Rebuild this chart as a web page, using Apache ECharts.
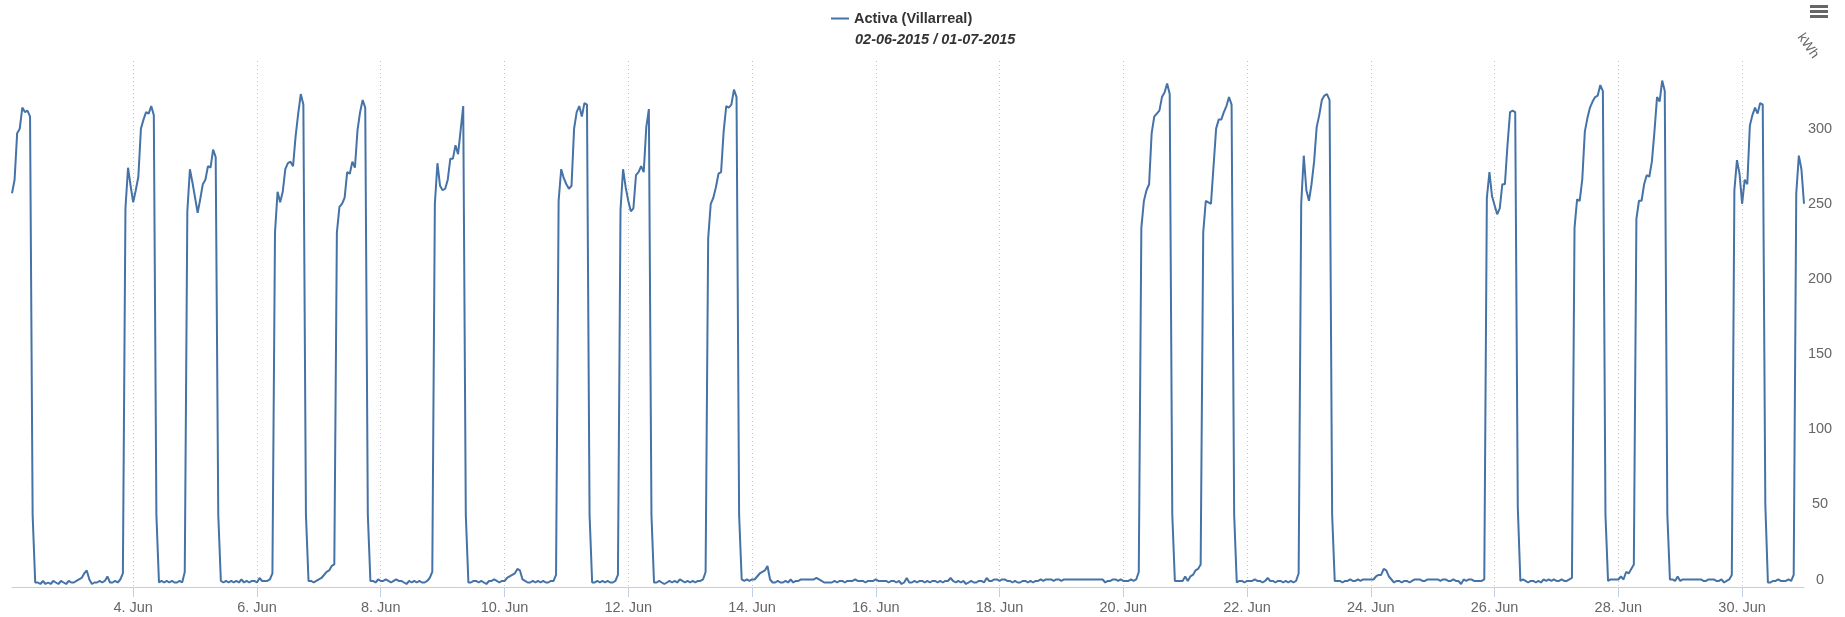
<!DOCTYPE html>
<html>
<head>
<meta charset="utf-8">
<title>Activa (Villarreal)</title>
<script src="https://cdn.jsdelivr.net/npm/echarts@6/dist/echarts.min.js"></script>
<style>
	html, body { margin: 0; padding: 0; background: #fff; }
	#chart { width: 1845px; height: 617px; }
</style>
</head>
<body>
<div id="chart"></div>
<script>
var seriesName = 'Activa (Villarreal)';
var periodText = '02-06-2015 / 01-07-2015';
var unitName = 'kWh';

// hourly kWh, one array per day, readings at 01:00 ... 24:00
var jun02 = [262, 271, 302, 305, 319, 316, 317, 313, 48, 3, 3, 2, 4, 2, 3, 2, 4, 3, 2, 4, 3, 2, 4, 3];
var jun03 = [3, 4, 5, 6, 9, 11, 5, 2, 3, 3, 4, 3, 4, 7, 3, 3, 4, 3, 5, 9, 252, 279, 267, 256];
var jun04 = [264, 273, 305, 311, 316, 315, 320, 314, 48, 3, 4, 3, 4, 3, 4, 3, 3, 4, 3, 10, 250, 278, 269, 259];
var jun05 = [249, 258, 268, 271, 280, 279, 291, 286, 48, 4, 3, 4, 3, 4, 3, 4, 3, 5, 3, 4, 3, 4, 4, 3];
var jun06 = [6, 4, 4, 4, 5, 9, 236, 263, 256, 263, 278, 282, 283, 280, 300, 315, 328, 321, 48, 4, 4, 3, 4, 5];
var jun07 = [6, 8, 10, 11, 14, 15, 236, 253, 255, 259, 276, 275, 283, 279, 304, 316, 324, 319, 48, 4, 4, 3, 5, 4];
var jun08 = [4, 5, 4, 3, 4, 5, 4, 4, 3, 2, 4, 3, 4, 3, 4, 3, 3, 4, 6, 10, 255, 282, 267, 264];
var jun09 = [265, 271, 285, 285, 294, 288, 304, 320, 48, 3, 3, 4, 4, 3, 4, 3, 2, 4, 4, 5, 4, 3, 4, 4];
var jun10 = [6, 7, 8, 9, 12, 11, 5, 4, 3, 3, 4, 3, 4, 3, 4, 3, 3, 4, 4, 8, 257, 278, 272, 268];
var jun11 = [265, 267, 305, 316, 320, 313, 322, 321, 48, 3, 3, 4, 3, 4, 3, 4, 3, 3, 4, 8, 251, 278, 266, 257];
var jun12 = [250, 252, 274, 276, 280, 276, 306, 318, 48, 3, 3, 4, 3, 2, 3, 4, 3, 4, 3, 5, 4, 3, 4, 3];
var jun13 = [4, 3, 4, 4, 5, 10, 232, 255, 259, 266, 275, 276, 303, 320, 319, 321, 331, 326, 48, 5, 4, 5, 4, 5];
var jun14 = [5, 7, 9, 10, 11, 14, 5, 3, 3, 4, 3, 3, 4, 3, 5, 3, 4, 4, 5, 5, 5, 5, 5, 5];
var jun15 = [6, 5, 4, 3, 3, 3, 3, 4, 3, 4, 4, 3, 4, 4, 4, 5, 4, 4, 4, 3, 4, 4, 4, 5];
var jun16 = [4, 4, 4, 4, 3, 4, 4, 3, 4, 2, 3, 6, 3, 3, 4, 3, 4, 4, 3, 4, 3, 4, 4, 3];
var jun17 = [4, 3, 4, 4, 6, 4, 3, 4, 3, 4, 2, 3, 4, 3, 3, 4, 4, 3, 6, 4, 4, 5, 5, 4];
var jun18 = [5, 5, 4, 4, 3, 4, 3, 3, 4, 4, 3, 4, 3, 4, 4, 5, 4, 5, 5, 5, 4, 5, 5, 4];
var jun19 = [5, 5, 5, 5, 5, 5, 5, 5, 5, 5, 5, 5, 5, 5, 5, 5, 3, 4, 4, 5, 5, 4, 5, 4];
var jun20 = [4, 4, 5, 4, 5, 10, 239, 257, 264, 268, 302, 313, 315, 317, 326, 329, 335, 328, 48, 4, 4, 4, 4, 7];
var jun21 = [4, 7, 8, 11, 12, 15, 236, 257, 256, 255, 280, 305, 311, 311, 316, 320, 326, 321, 48, 3, 4, 4, 3, 4];
var jun22 = [4, 4, 5, 4, 4, 3, 4, 6, 4, 4, 3, 4, 4, 3, 4, 3, 4, 3, 4, 9, 255, 287, 264, 257];
var jun23 = [268, 283, 306, 314, 324, 327, 328, 324, 48, 4, 4, 4, 3, 4, 4, 5, 4, 4, 5, 4, 5, 5, 5, 5];
var jun24 = [5, 7, 8, 8, 12, 11, 7, 5, 3, 4, 4, 3, 4, 4, 3, 4, 5, 5, 5, 4, 4, 5, 5, 5];
var jun25 = [5, 5, 4, 5, 5, 4, 4, 5, 4, 4, 2, 5, 4, 5, 5, 4, 4, 4, 4, 5, 259, 276, 260, 254];
var jun26 = [248, 252, 268, 268, 294, 316, 317, 316, 53, 4, 5, 4, 3, 4, 4, 3, 4, 3, 5, 4, 5, 4, 5, 4];
var jun27 = [4, 5, 4, 4, 5, 6, 239, 258, 257, 271, 303, 312, 319, 323, 326, 327, 334, 330, 48, 4, 5, 5, 5, 5];
var jun28 = [7, 5, 10, 9, 12, 15, 245, 257, 257, 268, 274, 273, 283, 303, 326, 323, 337, 330, 48, 5, 5, 4, 7, 4];
var jun29 = [5, 5, 5, 5, 5, 5, 5, 5, 4, 4, 5, 5, 5, 4, 4, 5, 3, 4, 5, 8, 264, 284, 275, 255];
var jun30 = [271, 268, 307, 314, 319, 315, 322, 321, 55, 3, 3, 4, 4, 5, 4, 4, 4, 5, 4, 8, 262, 287, 278, 255];

var days = [jun02, jun03, jun04, jun05, jun06, jun07, jun08, jun09, jun10, jun11,
	jun12, jun13, jun14, jun15, jun16, jun17, jun18, jun19, jun20, jun21,
	jun22, jun23, jun24, jun25, jun26, jun27, jun28, jun29, jun30];
var firstDay = 2;

// x labels every two days, y labels every 50 kWh
var tickDays = [4, 6, 8, 10, 12, 14, 16, 18, 20, 22, 24, 26, 28, 30];
var yTicks = [0, 50, 100, 150, 200, 250, 300];

var points = [];
days.forEach(function (vals, d) {
	vals.forEach(function (v, i) {
		points.push([new Date(2015, 5, firstDay + d, i + 1).getTime(), v]);
	});
});
var tickTimes = tickDays.map(function (d) {
	return new Date(2015, 5, d).getTime();
});

var font = '"Liberation Sans", Arial, sans-serif';
var fontSize = 14.5;
var lineColor = '#4572A7';
var axisColor = '#C0D0E0';

var myChart = echarts.init(document.getElementById('chart'));
var option = {
	animation: false,
	color: [lineColor],
	textStyle: { fontFamily: font },
	legend: {
		data: [seriesName],
		left: 831,
		top: 11,
		padding: 0,
		icon: 'rect',
		itemWidth: 18,
		itemHeight: 2,
		textStyle: { fontFamily: font, fontSize: fontSize, fontWeight: 'bold', color: '#333' }
	},
	title: {
		text: periodText,
		left: 855,
		top: 32,
		padding: 0,
		textStyle: { fontFamily: font, fontSize: fontSize, fontWeight: 'bold', fontStyle: 'italic', color: '#333' }
	},
	grid: { left: 12, right: 41, top: 61, bottom: 30 },
	xAxis: {
		// timestamps on a plain value axis, so the two-day ticks can be placed exactly
		type: 'value',
		min: points[0][0],
		max: points[points.length - 1][0],
		axisLine: { lineStyle: { color: axisColor, width: 1 } },
		axisTick: { length: 10, lineStyle: { color: axisColor }, customValues: tickTimes },
		axisLabel: {
			customValues: tickTimes,
			margin: 13,
			fontSize: fontSize,
			color: '#666',
			fontFamily: font,
			formatter: function (v) {
				return new Date(v).getDate() + '. Jun';
			}
		},
		splitLine: { show: true, lineStyle: { color: '#C0C0C0', width: 1, type: [1, 3] } }
	},
	yAxis: {
		type: 'value',
		position: 'right',
		min: 0,
		max: 350,
		interval: 50,
		axisLine: { show: false },
		axisTick: { show: false },
		splitLine: { show: false },
		axisLabel: {
			customValues: yTicks,
			align: 'center',
			verticalAlign: 'bottom',
			margin: 16,
			fontSize: fontSize,
			color: '#666',
			fontFamily: font
		}
	},
	graphic: [
		{
			type: 'text',
			x: 1808,
			y: 46,
			rotation: -55 * Math.PI / 180,
			style: { text: unitName, font: '13.5px ' + font, fill: '#666', textAlign: 'center', textVerticalAlign: 'middle' }
		},
		{ type: 'rect', shape: { x: 1810, y: 5, width: 18, height: 3 }, style: { fill: '#666' } },
		{ type: 'rect', shape: { x: 1810, y: 10, width: 18, height: 3 }, style: { fill: '#666' } },
		{ type: 'rect', shape: { x: 1810, y: 15, width: 18, height: 3 }, style: { fill: '#666' } }
	],
	series: [
		{
			name: seriesName,
			type: 'line',
			data: points,
			symbol: 'none',
			showSymbol: false,
			lineStyle: { width: 2, color: lineColor }
		}
	]
};
myChart.setOption(option);
</script>
</body>
</html>
